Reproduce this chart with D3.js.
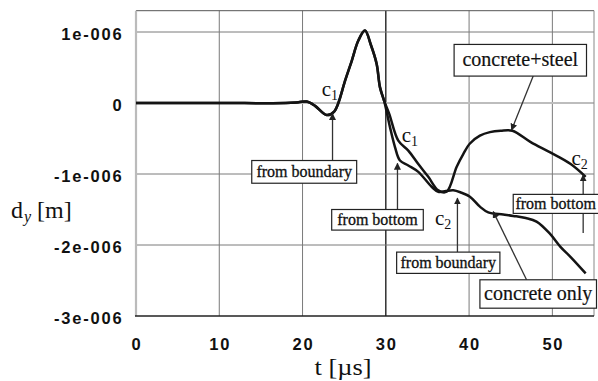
<!DOCTYPE html>
<html><head><meta charset="utf-8">
<script src="https://cdn.jsdelivr.net/npm/d3@7"></script>
<style>
body{margin:0;background:#fff;}
svg{display:block;}
</style></head>
<body>
<svg id="chart" width="598" height="381"></svg>
<script>
// ---- data (displacement in m, time in µs) ----
const xTicks = [0, 10, 20, 30, 40, 50];
const xTickLabels = ["0", "10", "20", "30", "40", "50"];
const yTicks = [1e-6, 0, -1e-6, -2e-6, -3e-6];
const yTickLabels = ["1e-006", "0", "-1e-006", "-2e-006", "-3e-006"];

// common early part of the response
const tCommon = [0, 10, 18, 19.5, 20.5, 21.5, 22.9, 23.8, 24.3, 25.1, 25.9, 26.7, 27.5, 28.2, 28.9, 29.3, 29.8];
const vCommon = [0, 0, 0, 0.01e-6, 0.02e-6, -0.04e-6, -0.17e-6, -0.12e-6, 0.0, 0.31e-6, 0.59e-6, 0.88e-6, 1.02e-6, 0.82e-6, 0.55e-6, 0.22e-6, 0.03e-6];

// concrete+steel
const tSteel = [30.4, 31.5, 32.7, 33.9, 35.1, 36.3, 37.3, 38.5, 39.3, 40.1, 41.3, 42.5, 43.8, 45.2, 47.4, 49.8, 52.2, 54];
const vSteel = [-0.15e-6, -0.53e-6, -0.67e-6, -0.86e-6, -1.04e-6, -1.23e-6, -1.25e-6, -0.9e-6, -0.72e-6, -0.57e-6, -0.46e-6, -0.41e-6, -0.39e-6, -0.39e-6, -0.55e-6, -0.7e-6, -0.86e-6, -1.04e-6];

// concrete only
const tConc = [30.5, 31.1, 31.7, 32.7, 33.9, 35.5, 36.3, 37.2, 38.1, 39.0, 40.1, 41.3, 42.3, 44.1, 45.3, 46.8, 48.1, 49.7, 51, 52.2, 54];
const vConc = [-0.34e-6, -0.62e-6, -0.81e-6, -0.88e-6, -0.97e-6, -1.18e-6, -1.25e-6, -1.24e-6, -1.23e-6, -1.26e-6, -1.32e-6, -1.46e-6, -1.54e-6, -1.57e-6, -1.59e-6, -1.62e-6, -1.67e-6, -1.84e-6, -2.03e-6, -2.17e-6, -2.4e-6];

// annotation boxes: label, t0, t1, v0, v1 (data units)
const boxLabels = ["from boundary", "from bottom", "from boundary", "concrete+steel", "from bottom", "concrete only"];
const boxT0 = [13.9, 23.5, 31.3, 38.2, 45.3, 41.3];
const boxT1 = [26.5, 34.5, 43.7, 54.1, 56.0, 55.3];
const boxV0 = [-0.81e-6, -1.50e-6, -2.10e-6, 0.825e-6, -1.287e-6, -2.49e-6];
const boxV1 = [-1.13e-6, -1.79e-6, -2.40e-6, 0.379e-6, -1.555e-6, -2.89e-6];
const boxBig = [false, false, false, true, false, true];

// annotation arrows: from (t,v) to (t,v)
const arrFromT = [23.6, 31.4, 38.6, 47.7, 53.7, 46.9];
const arrFromV = [-0.81e-6, -1.50e-6, -2.10e-6, 0.379e-6, -1.83e-6, -2.49e-6];
const arrToT = [23.6, 31.4, 38.6, 45.1, 53.7, 42.9];
const arrToV = [-0.15e-6, -0.85e-6, -1.34e-6, -0.38e-6, -1.015e-6, -1.53e-6];

// c labels
const cSub = ["1", "1", "2", "2"];
const cT = [22.3, 31.9, 35.9, 52.3];
const cV = [0.097e-6, -0.55e-6, -1.72e-6, -0.875e-6];

// ---- drawing ----
const svg = d3.select("#chart");
const x = d3.scaleLinear().domain([0, 55]).range([136, 594]);
const y = d3.scaleLinear().domain([-3e-6, 1.3e-6]).range([316, 10.7]);

const grid = svg.append("g");
// vertical grid
grid.selectAll("line.vx").data(xTicks.filter(t => t > 0)).join("line")
  .attr("x1", d => x(d)).attr("x2", d => x(d))
  .attr("y1", y(1.3e-6)).attr("y2", y(-3e-6))
  .attr("stroke", d => d === 30 ? "#111" : "#7a7a7a").attr("stroke-width", d => d === 30 ? 1.3 : 1);
// horizontal grid
grid.selectAll("line.hy").data(yTicks.filter(v => v > -3e-6)).join("line")
  .attr("x1", x(0)).attr("x2", x(55))
  .attr("y1", d => y(d)).attr("y2", d => y(d))
  .attr("stroke", d => d === 0 ? "#bdbdbd" : "#7a7a7a").attr("stroke-width", d => d === 0 ? 2 : 1);
// frame
grid.append("line").attr("x1", x(0)).attr("x2", x(55)).attr("y1", y(1.3e-6)).attr("y2", y(1.3e-6)).attr("stroke", "#555").attr("stroke-width", 1);
grid.append("line").attr("x1", x(55)).attr("x2", x(55)).attr("y1", y(1.3e-6)).attr("y2", y(-3e-6)).attr("stroke", "#888").attr("stroke-width", 1);
grid.append("line").attr("x1", x(0)).attr("x2", x(0)).attr("y1", y(1.3e-6)).attr("y2", y(-3e-6)).attr("stroke", "#bbb").attr("stroke-width", 2.2);
grid.append("line").attr("x1", x(0) - 1).attr("x2", x(55)).attr("y1", y(-3e-6)).attr("y2", y(-3e-6)).attr("stroke", "#222").attr("stroke-width", 1.6);

// tick labels
svg.append("g").selectAll("text").data(yTicks).join("text")
  .attr("x", 123.5).attr("y", d => y(d) + 7.5)
  .attr("text-anchor", "end")
  .attr("font-family", "Liberation Sans, Arial, sans-serif").attr("font-weight", "bold")
  .attr("font-size", 16.5).attr("letter-spacing", 1.8).attr("fill", "#111")
  .text((d, i) => yTickLabels[i]);
svg.append("g").selectAll("text").data(xTicks).join("text")
  .attr("x", d => x(d) + 1).attr("y", 350)
  .attr("text-anchor", "middle")
  .attr("font-family", "Liberation Sans, Arial, sans-serif").attr("font-weight", "bold")
  .attr("font-size", 16.5).attr("letter-spacing", 1.8).attr("fill", "#111")
  .text((d, i) => xTickLabels[i]);

// axis titles
const serif = "Liberation Serif, Times New Roman, serif";
svg.append("text").attr("x", 343).attr("y", 375).attr("text-anchor", "middle")
  .attr("font-family", serif).attr("font-size", 23).attr("fill", "#111")
  .attr("textLength", 57).attr("lengthAdjust", "spacingAndGlyphs")
  .text("t [µs]");
const yt = svg.append("text").attr("x", 11).attr("y", 218).attr("font-family", serif).attr("font-size", 24).attr("fill", "#111");
yt.append("tspan").text("d");
yt.append("tspan").attr("font-size", 16).attr("font-style", "italic").attr("dy", 4).attr("dx", 1).text("y");
yt.append("tspan").attr("dy", -4).attr("dx", 6).text("[m]");

// curves
const line = d3.line().x(d => x(d[0])).y(d => y(d[1])).curve(d3.curveCatmullRom.alpha(0.5));
const common = tCommon.map((t, i) => [t, vCommon[i]]);
const steel = common.concat(tSteel.map((t, i) => [t, vSteel[i]]));
const conc = common.concat(tConc.map((t, i) => [t, vConc[i]]));
svg.append("path").datum(conc).attr("d", line).attr("fill", "none").attr("stroke", "#141414").attr("stroke-width", 2.5).attr("stroke-linejoin", "round");
svg.append("path").datum(steel).attr("d", line).attr("fill", "none").attr("stroke", "#141414").attr("stroke-width", 2.5).attr("stroke-linejoin", "round");

// arrows
svg.append("defs").append("marker").attr("id", "ah").attr("viewBox", "0 0 10 10")
  .attr("refX", 9).attr("refY", 5).attr("markerWidth", 7).attr("markerHeight", 7)
  .attr("markerUnits", "userSpaceOnUse").attr("orient", "auto")
  .append("path").attr("d", "M0,0L10,5L0,10Z").attr("fill", "#222");
svg.append("g").selectAll("line").data(arrFromT).join("line")
  .attr("x1", (d, i) => x(arrFromT[i])).attr("y1", (d, i) => y(arrFromV[i]))
  .attr("x2", (d, i) => x(arrToT[i])).attr("y2", (d, i) => y(arrToV[i]))
  .attr("stroke", "#333").attr("stroke-width", 1.3).attr("marker-end", "url(#ah)");

// boxes
const bg = svg.append("g").selectAll("g").data(boxLabels).join("g");
bg.append("rect")
  .attr("x", (d, i) => x(boxT0[i])).attr("y", (d, i) => y(boxV0[i]))
  .attr("width", (d, i) => x(boxT1[i]) - x(boxT0[i])).attr("height", (d, i) => y(boxV1[i]) - y(boxV0[i]))
  .attr("fill", "#fff").attr("stroke", "#222").attr("stroke-width", 1.2);
bg.append("text")
  .attr("x", (d, i) => (x(boxT0[i]) + Math.min(x(boxT1[i]), 598)) / 2)
  .attr("y", (d, i) => (y(boxV0[i]) + y(boxV1[i])) / 2 + (boxBig[i] ? 6 : 5))
  .attr("text-anchor", "middle").attr("font-family", serif)
  .attr("font-size", (d, i) => boxBig[i] ? 20 : 16).attr("fill", "#111")
  .attr("stroke", "#111").attr("stroke-width", (d, i) => boxBig[i] ? 0.2 : 0.3)
  .text(d => d);

// c labels
const cl = svg.append("g").selectAll("text").data(cT).join("text")
  .attr("x", d => x(d)).attr("y", (d, i) => y(cV[i]))
  .attr("font-family", serif).attr("font-size", 21).attr("fill", "#111");
cl.append("tspan").text("c");
cl.append("tspan").attr("font-size", 14).attr("dy", 4).text((d, i) => cSub[i]);
</script>
</body></html>
